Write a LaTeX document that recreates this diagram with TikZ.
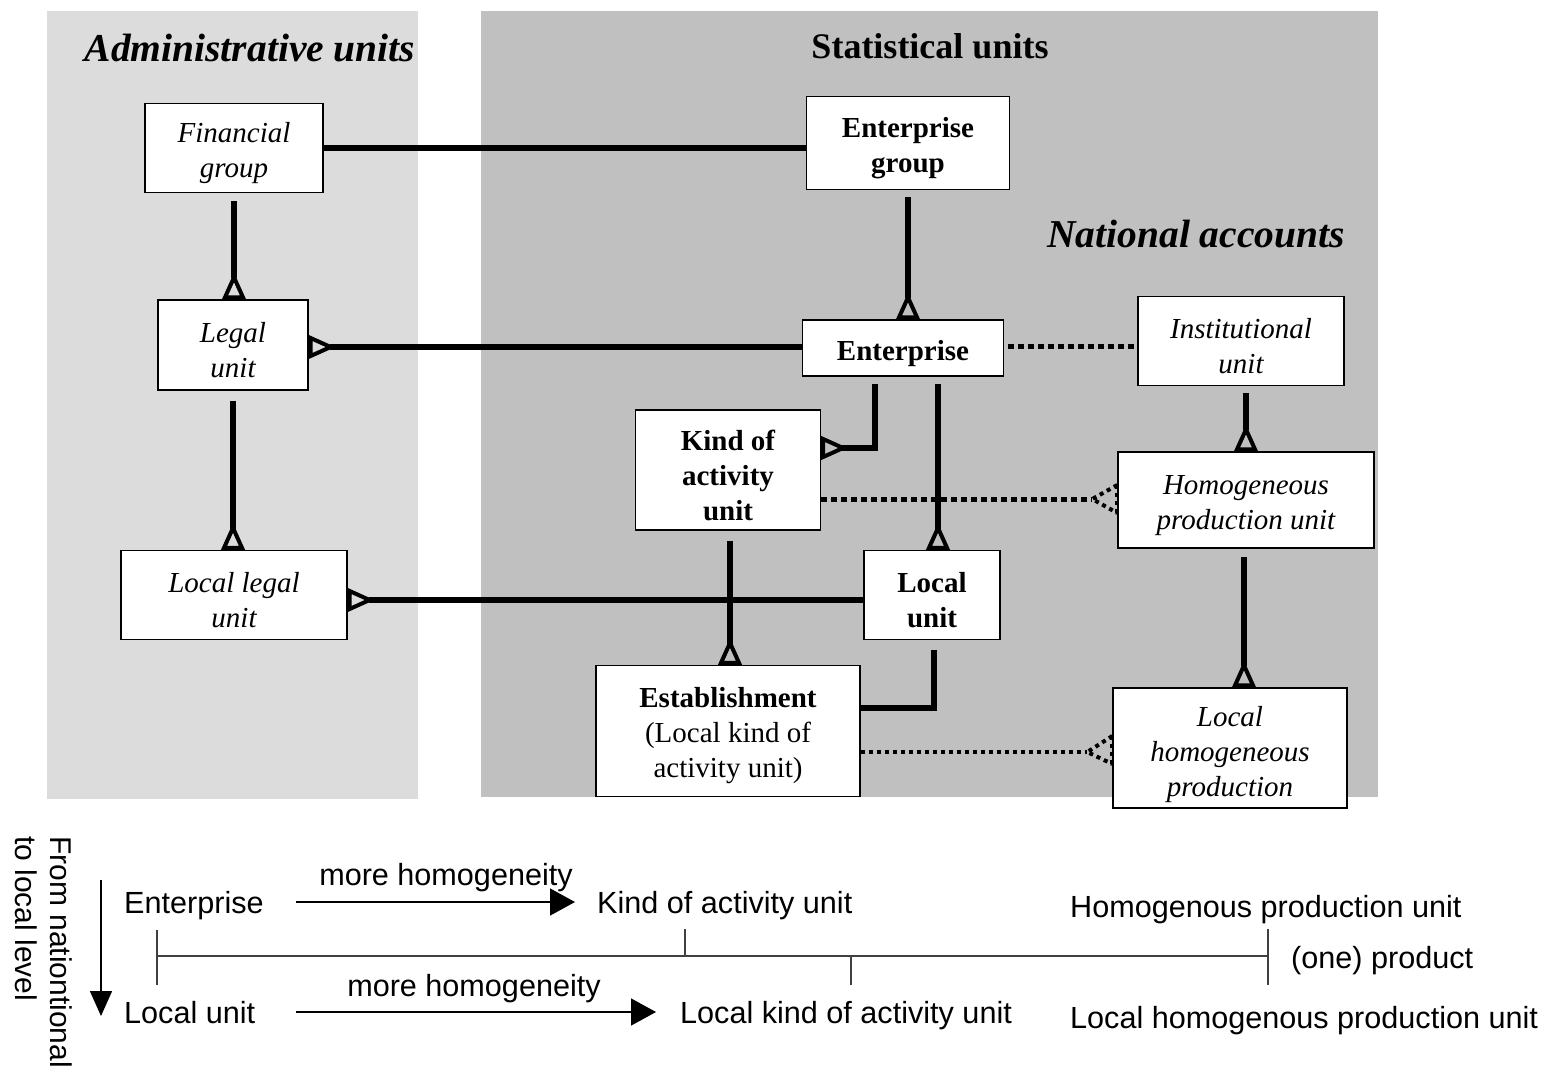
\documentclass[tikz,border=0pt]{standalone}
\usepackage{fontspec}
\setmainfont{Liberation Serif}
\newfontfamily\arialf{Liberation Sans}
\usetikzlibrary{arrows.meta,calc}
\definecolor{admgray}{RGB}{220,220,220}
\definecolor{statgray}{RGB}{192,192,192}
\newcommand\topstrut{\rule{0pt}{30pt}}
\begin{document}
\begin{tikzpicture}[x=1pt,y=-1pt,
  box/.style={draw=black,line width=1.4pt,fill=white,inner sep=0pt,align=center,font=\fontsize{29}{35}\selectfont},
  ibox/.style={box,font=\fontsize{29}{35}\selectfont\itshape},
  bbox/.style={box,font=\fontsize{29}{35}\selectfont\bfseries},
  conn/.style={line width=5.5pt},
  cf/.style={-{Triangle[open,reversed,length=27pt,width=23pt,line width=4pt]}},
  dotsA/.style={line width=5pt,dash pattern=on 6pt off 4pt},
  dotsB/.style={line width=4pt,dash pattern=on 4pt off 4pt},
  sans/.style={font=\fontsize{30.6}{35}\selectfont\arialf,inner sep=0pt},
  tline/.style={line width=1.5pt,draw=black!75},
  harrow/.style={line width=1.5pt,-{Triangle[length=25pt,width=27pt]}},
  ttl/.style={inner sep=0pt,anchor=base,font=\fontsize{36}{40}\selectfont\bfseries}
]
\useasboundingbox (0,0) rectangle (1545,1069);
% panels
\fill[admgray] (47,11) rectangle (418,799);
\fill[statgray] (481,11) rectangle (1378,797);
% titles
\node[ttl,font=\fontsize{39.5}{42}\selectfont\bfseries\itshape] (tadm) at (250,61) {Administrative units};
\node[ttl] (tstat) at (930,58) {Statistical units};
\node[ttl,font=\fontsize{39.5}{42}\selectfont\bfseries\itshape] (tnat) at (1196,247) {National accounts};
% boxes
\node[ibox,minimum width=178pt,minimum height=89pt] (fg) at (234,148) {\topstrut Financial\\group};
\node[bbox,minimum width=203pt,minimum height=93pt] (eg) at (908,143) {\topstrut Enterprise\\group};
\node[ibox,minimum width=150pt,minimum height=90pt] (lu) at (233,345) {\topstrut Legal\\unit};
\node[bbox,minimum width=201pt,minimum height=56pt] (ent) at (903,348) {\rule{0pt}{32pt}Enterprise};
\node[ibox,minimum width=206pt,minimum height=89pt] (inst) at (1241,341) {\topstrut Institutional\\unit};
\node[bbox,minimum width=185pt,minimum height=120pt] (kau) at (728,470) {\rule{0pt}{32pt}Kind of\\activity\\unit};
\node[ibox,minimum width=256pt,minimum height=96pt] (hpu) at (1246,500) {\topstrut Homogeneous\\production unit};
\node[ibox,minimum width=226pt,minimum height=89pt] (llu) at (234,595) {\topstrut Local legal\\unit};
\node[bbox,minimum width=136pt,minimum height=89pt] (loc) at (932,595) {\topstrut Local\\unit};
\node[box,minimum width=264pt,minimum height=131pt] (est) at (728,731) {\topstrut\textbf{Establishment}\\(Local kind of\\activity unit)};
\node[ibox,minimum width=234pt,minimum height=120pt] (lhp) at (1230,748) {\rule{0pt}{34pt}Local\\homogeneous\\production};
% connectors
\draw[conn] (fg.east) -- (fg.east -| eg.west);
\draw[conn,cf,shorten <=8pt] (fg.south) -- (fg.south |- lu.north);
\coordinate (c1) at ($(ent.west)+(0,-1)$);
\draw[conn,cf] (c1) -- (c1 -| lu.east);
\draw[conn,cf,shorten <=10pt] (lu.south) -- (lu.south |- llu.north);
\coordinate (c2) at ($(loc.west)+(0,5)$);
\draw[conn,cf] (c2) -- (c2 -| llu.east);
\draw[conn,cf,shorten <=7pt] (eg.south) -- (eg.south |- ent.north);
\coordinate (c3) at ($(ent.east)+(4,-2)$);
\draw[dotsA] (c3) -- (c3 -| inst.west);
\coordinate (c4) at ($(ent.south)+(-28,7)$);
\draw[conn,cf] (c4) |- ($(kau.east)+(0,-22)$);
\coordinate (c5) at ($(ent.south)+(35,7)$);
\draw[conn,cf] (c5) -- (c5 |- loc.north);
\coordinate (c6) at ($(kau.south)+(2,10)$);
\draw[conn,cf] (c6) -- (c6 |- est.north);
\coordinate (c7) at ($(loc.south)+(2,10)$);
\draw[conn] (c7) |- ($(est.east)+(0,-23)$);
\coordinate (c8) at ($(hpu.north |- inst.south)+(0,7)$);
\draw[conn,cf] (c8) -- (hpu.north);
\coordinate (c9) at ($(hpu.south)+(-2,8)$);
\draw[conn,cf] (c9) -- (c9 |- lhp.north);
% dotted crow's feet
\coordinate (hf) at ($(hpu.west)+(-25,-1)$);
\draw[dotsA] ($(kau.east)+(0,29)$) -- (hf);
\draw[dotsB] ($(hpu.west)+(0,-15)$) -- (hf) -- ($(hpu.west)+(0,13)$);
\draw[dotsB] ($(hpu.west)+(0,-15)$) -- ($(hpu.west)+(0,13)$);
\coordinate (lf) at ($(lhp.west)+(-25,4)$);
\draw[dotsB] ($(est.east)+(0,21)$) -- (lf);
\draw[dotsB] ($(lhp.west)+(0,-12)$) -- (lf) -- ($(lhp.west)+(0,16)$);
\draw[dotsB] ($(lhp.west)+(0,-12)$) -- ($(lhp.west)+(0,16)$);
% bottom legend
\node[sans,font=\fontsize{30}{35}\selectfont\arialf,rotate=-90,anchor=north west,align=left] (side) at (72,836) {From nationtional\\to local level};
\coordinate (vs) at (101,880);
\coordinate (ve) at (101,1016);
\draw[line width=1.5pt,-{Triangle[length=25pt,width=22pt]}] (vs) -- (ve);
\node[sans,anchor=base west] (t1) at (124,913) {Enterprise};
\node[sans,anchor=base west] (t2) at (124,1023) {Local unit};
\node[sans,anchor=base west] (t3) at (597,913) {Kind of activity unit};
\node[sans,anchor=base west] (t4) at (680,1023) {Local kind of activity unit};
\node[sans,anchor=base west] (t5) at (1070,917) {Homogenous production unit};
\node[sans,anchor=base west] (t6) at (1291,968) {(one) product};
\node[sans,anchor=base west] (t7) at (1070,1028) {Local homogenous production unit};
\node[sans,anchor=base] (m1) at (446,885) {more homogeneity};
\node[sans,anchor=base] (m2) at (474,996) {more homogeneity};
\coordinate (a1) at (296,902);
\coordinate (a2) at (296,1012);
\draw[harrow,shorten >=22pt] (a1) -- (a1 -| t3.west);
\draw[harrow,shorten >=24pt] (a2) -- (a2 -| t4.west);
\coordinate (s0) at (157,956);
\coordinate (s1) at (1268,956);
\draw[tline] (s0) -- (s1);
\draw[tline] (157,930) -- (157,985);
\draw[tline] (685,929) -- (685,956);
\draw[tline] (851,956) -- (851,985);
\draw[tline] (1268,929) -- (1268,985);
\end{tikzpicture}
\end{document}
